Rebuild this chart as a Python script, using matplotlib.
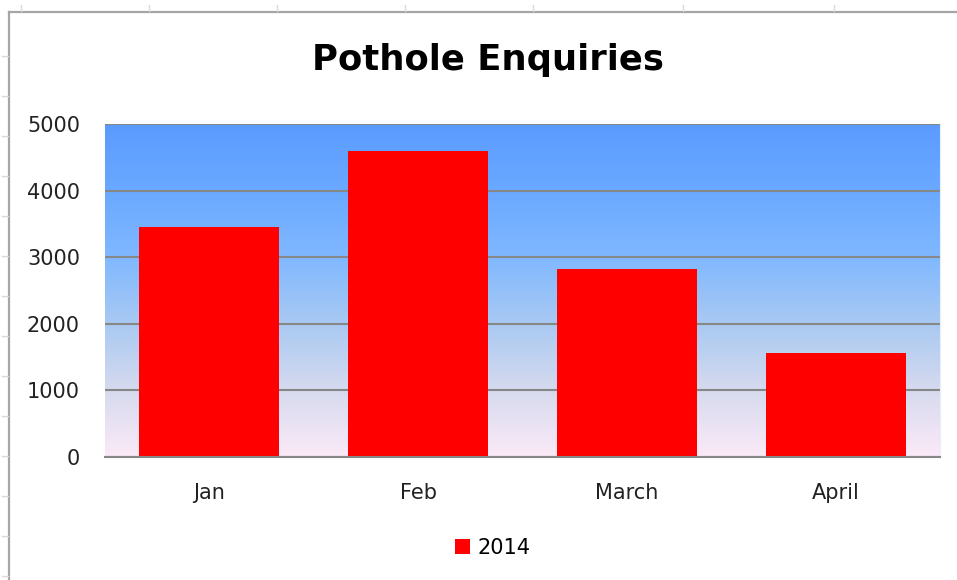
import numpy as np
from matplotlib import pyplot as plt
from matplotlib.colors import LinearSegmentedColormap
from matplotlib.lines import Line2D

months = ["Jan", "Feb", "March", "April"]
enquiries_2014 = [3450, 4600, 2820, 1560]
y_ticks = [0, 1000, 2000, 3000, 4000, 5000]

plt.rcParams['font.family'] = ['DejaVu Sans']

fig = plt.figure(figsize=(9.57, 5.80), dpi=100)
W, H = 957, 580

# spreadsheet chart frame + cell grid stubs around it
fig.add_artist(Line2D([9 / W, 9 / W], [0, 1 - 12 / H], color="#a6a6a6", lw=1.6))
fig.add_artist(Line2D([9 / W, 1], [1 - 12 / H, 1 - 12 / H], color="#a6a6a6", lw=1.6))
for px in [21, 149, 277, 405, 533, 683, 834]:
    fig.add_artist(Line2D([px / W, px / W], [1 - 5 / H, 1 - 11 / H], color="#d9d9d9", lw=1))
for py in [56, 96, 136, 176, 216, 256, 296, 336, 376, 416, 456, 496, 536, 576]:
    fig.add_artist(Line2D([2 / W, 8 / W], [1 - py / H, 1 - py / H], color="#d9d9d9", lw=1))

ax = fig.add_axes([105 / W, 1 - 457 / H, 835 / W, 333 / H])

# gradient plot area
cmap = LinearSegmentedColormap.from_list("bg", [
    (0.0, "#fbeaf8"), (0.2, "#d6daee"), (0.4, "#a9c9f2"),
    (0.6, "#80b8ff"), (0.8, "#6aa9ff"), (1.0, "#5b9bff")])
grad = np.linspace(0, 1, 256).reshape(-1, 1)
ax.imshow(grad, cmap=cmap, origin="lower", aspect="auto",
          extent=[-0.5, 3.5, 0, 5000], zorder=0)

x = np.arange(len(months))
ax.bar(x, enquiries_2014, width=0.67, color="#ff0000", zorder=2, label="2014")

ax.set_xlim(-0.5, 3.5)
ax.set_ylim(0, 5000)
ax.set_yticks(y_ticks)
ax.set_xticks(x)
ax.set_xticklabels(months)
ax.yaxis.grid(True, color="#878787", lw=1.5, zorder=1)
ax.set_axisbelow(True)
ax.tick_params(axis="both", length=0, labelsize=15, colors="#222222")
ax.tick_params(axis="y", pad=18)
ax.tick_params(axis="x", pad=19)

for s in ["left", "top"]:
    ax.spines[s].set_visible(False)
ax.spines["bottom"].set_color("#878787")
ax.spines["bottom"].set_linewidth(1.5)
ax.spines["right"].set_color("#e8eef8")

fig.text(488 / W, 1 - 70 / H, "Pothole Enquiries", ha="center", va="baseline",
         fontsize=25.5, fontweight="bold", color="black")

fig.legend(loc="center", bbox_to_anchor=(493 / W, 1 - 548 / H), frameon=False,
           fontsize=15, handlelength=0.7, handleheight=0.7, handletextpad=0.4)

fig.savefig("out.png", dpi=100)
